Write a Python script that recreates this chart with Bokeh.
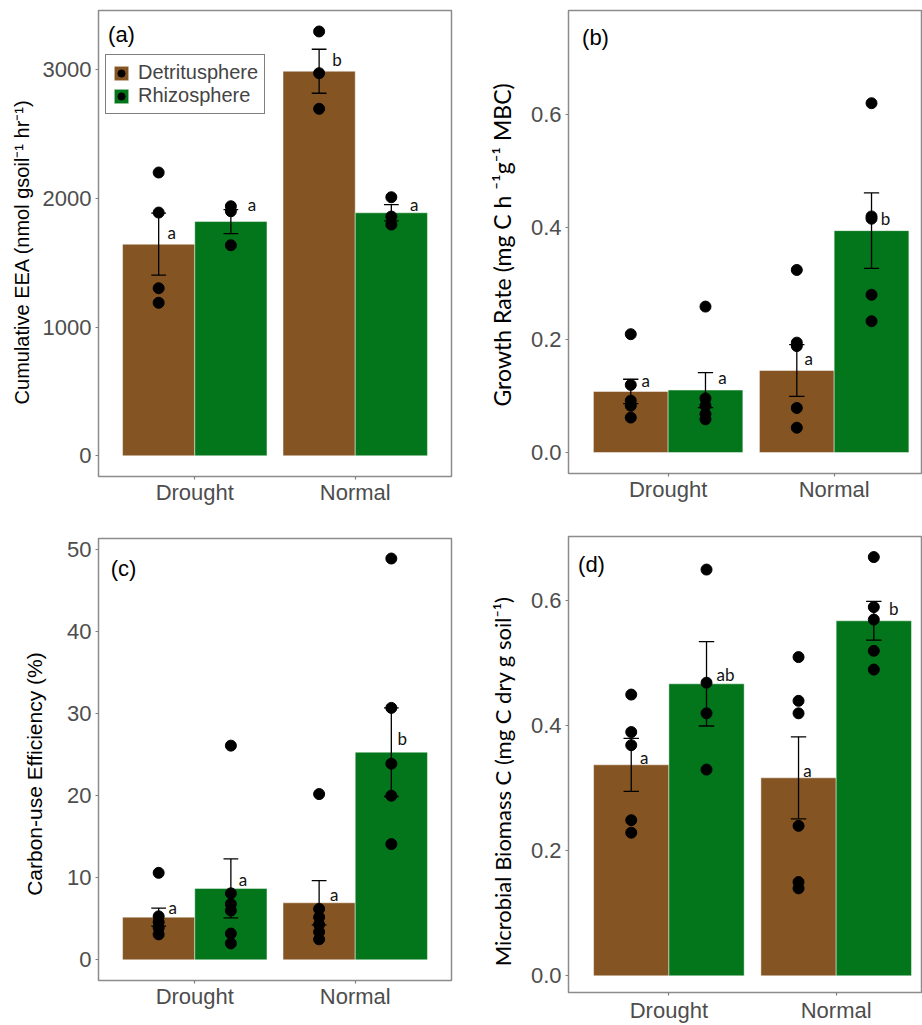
from bokeh.plotting import figure
from bokeh.models import (ColumnDataSource, Range1d, FixedTicker, Label, Legend,
                          LegendItem, PrintfTickFormatter)
from bokeh.layouts import column, row
from bokeh.embed import file_html
from bokeh.resources import INLINE
from bokeh.core.properties import value

# ---------------- data ----------------
conditions = ["Drought", "Normal"]
groups = ["Detritusphere", "Rhizosphere"]

# (a) Cumulative EEA
eea_ticks = [0, 1000, 2000, 3000]
eea_det_mean = [1644, 2988]
eea_det_se = [241, 171]
eea_rhi_mean = [1820, 1888]
eea_rhi_se = [93, 63]
eea_det_pts = [[2201, 1890, 1302, 1189], [3297, 2973, 2696]]
eea_rhi_pts = [[1939, 1900, 1636], [2009, 1859, 1797]]
eea_det_letters = ["a", "b"]
eea_rhi_letters = ["a", "a"]
eea_det_letter_y = [1735, 3079]
eea_rhi_letter_y = [1955, 1955]

# (b) Growth rate
gr_ticks = [0.0, 0.2, 0.4, 0.6]
gr_det_mean = [0.1083, 0.1456]
gr_det_se = [0.0217, 0.0460]
gr_rhi_mean = [0.1108, 0.3938]
gr_rhi_se = [0.0310, 0.0670]
gr_det_pts = [[0.210, 0.120, 0.092, 0.083, 0.062], [0.324, 0.195, 0.189, 0.079, 0.044]]
gr_rhi_pts = [[0.259, 0.096, 0.083, 0.068, 0.059], [0.620, 0.419, 0.415, 0.280, 0.233]]
gr_det_letters = ["a", "a"]
gr_rhi_letters = ["a", "b"]
gr_det_letter_y = [0.1274, 0.1660]
gr_rhi_letter_y = [0.1333, 0.4145]

# (c) Carbon-use efficiency
cue_ticks = [0, 10, 20, 30, 40, 50]
cue_det_mean = [5.2, 6.95]
cue_det_se = [1.1, 2.7]
cue_rhi_mean = [8.7, 25.3]
cue_rhi_se = [3.6, 5.4]
cue_det_pts = [[10.6, 5.3, 4.6, 3.9, 3.1], [20.2, 6.2, 5.2, 4.3, 3.4, 2.5]]
cue_rhi_pts = [[26.1, 8.1, 6.8, 6.0, 3.2, 2.0], [48.9, 30.7, 23.9, 20.0, 14.1]]
cue_det_letters = ["a", "a"]
cue_rhi_letters = ["a", "b"]
cue_det_letter_y = [6.34, 7.93]
cue_rhi_letter_y = [9.79, 27.02]

# (d) Microbial biomass C
mbc_ticks = [0.0, 0.2, 0.4, 0.6]
mbc_det_mean = [0.3376, 0.3168]
mbc_det_se = [0.0424, 0.0656]
mbc_rhi_mean = [0.4672, 0.5680]
mbc_rhi_se = [0.0675, 0.0310]
mbc_det_pts = [[0.450, 0.390, 0.369, 0.249, 0.229], [0.510, 0.440, 0.420, 0.240, 0.150, 0.140]]
mbc_rhi_pts = [[0.650, 0.469, 0.420, 0.330], [0.670, 0.590, 0.570, 0.520, 0.490]]
mbc_det_letters = ["a", "a"]
mbc_rhi_letters = ["ab", "b"]
mbc_det_letter_y = [0.349, 0.328]
mbc_rhi_letter_y = [0.4816, 0.588]

# ---------------- style ----------------
BROWN = "#845422"
GREEN = "#03751a"
DODGE = 0.225
BAR_W = 0.45
CAP = 0.046
TICK_GRAY = "#4d4d4d"
FRAME_GRAY = "#8c8c8c"
NB = "\u00a0"


def panel(tag, ylabel, ylabel_font, ylabel_size, yticks, fmt, yr, xend, size, borders,
          label_standoff, x_standoff, tag_pos, det, rhi, det_dx, rhi_dx, legend=False):
    w, h = size
    bl, br, bt, bb = borders
    p = figure(width=w, height=h, output_backend="svg", toolbar_location=None,
               x_range=Range1d(0.4, xend), y_range=Range1d(*yr),
               min_border_left=bl, min_border_right=br, min_border_top=bt,
               min_border_bottom=bb)
    p.title.visible = False
    p.xgrid.visible = False
    p.ygrid.visible = False
    p.outline_line_color = FRAME_GRAY
    p.outline_line_width = 1.5
    p.background_fill_color = "white"
    p.border_fill_color = "white"

    items = []
    for gi, (g, color, dxs) in enumerate(zip(groups, [BROWN, GREEN], [det_dx, rhi_dx])):
        means, ses, pts, letters, lety = (det, rhi)[gi]
        xs = [i + 1 + (-DODGE if gi == 0 else DODGE) for i in range(len(conditions))]
        bar = p.vbar(x=xs, top=means, width=BAR_W, bottom=0, fill_color=color,
                     line_color="white", line_alpha=0.45, line_width=1)
        lo = [m - s for m, s in zip(means, ses)]
        hi = [m + s for m, s in zip(means, ses)]
        p.segment(x0=xs, y0=lo, x1=xs, y1=hi, line_color="black", line_width=1.3)
        p.segment(x0=[x - CAP for x in xs], y0=lo, x1=[x + CAP for x in xs], y1=lo,
                  line_color="black", line_width=1.3)
        p.segment(x0=[x - CAP for x in xs], y0=hi, x1=[x + CAP for x in xs], y1=hi,
                  line_color="black", line_width=1.3)
        px, py = [], []
        for x, vals in zip(xs, pts):
            px += [x] * len(vals)
            py += vals
        sc = p.scatter(x=px, y=py, size=11, fill_color="black", line_color="black")
        src = ColumnDataSource(dict(x=xs, y=lety, t=letters, dx=dxs))
        p.text(x="x", y="y", text="t", x_offset="dx", source=src, text_align="center",
               text_baseline="middle", text_font_size="17px", text_font=value("Lato"),
               text_color="#111111")
        items.append(LegendItem(label=g, renderers=[bar, sc]))

    p.xaxis.ticker = FixedTicker(ticks=[1, 2])
    p.xaxis.major_label_overrides = {1: conditions[0], 2: conditions[1]}
    p.xaxis.axis_label = None
    p.yaxis.ticker = FixedTicker(ticks=yticks)
    p.yaxis.formatter = PrintfTickFormatter(format=fmt)
    for ax in (p.xaxis, p.yaxis):
        ax.axis_line_color = None
        ax.major_tick_line_color = "#7f7f7f"
        ax.major_tick_line_width = 1.2
        ax.major_tick_out = 3
        ax.major_tick_in = 0
        ax.minor_tick_line_color = None
        ax.major_label_text_font = "Liberation Sans"
        ax.major_label_text_color = TICK_GRAY
        ax.major_label_text_font_size = "22px"
    p.xaxis.major_label_standoff = x_standoff
    p.yaxis.major_label_standoff = 4
    p.yaxis.axis_label = ylabel
    p.yaxis.axis_label_text_font = ylabel_font
    p.yaxis.axis_label_text_font_style = "normal"
    p.yaxis.axis_label_text_font_size = ylabel_size
    p.yaxis.axis_label_text_color = "black"
    p.yaxis.axis_label_standoff = label_standoff

    fh = h - bt - bb
    p.add_layout(Label(x=tag_pos[0], y=fh - tag_pos[1], x_units="screen", y_units="screen",
                       text=tag, text_align="center", text_baseline="middle",
                       text_font="Liberation Sans", text_font_size="22px",
                       text_color="black"))
    if legend:
        lg = Legend(items=items, location=(7, fh - 44 - 60), orientation="vertical",
                    glyph_width=18, glyph_height=18, label_height=18,
                    label_text_font="Liberation Sans", label_text_font_size="20px",
                    label_standoff=8, padding=6, spacing=0, margin=0,
                    border_line_color="black", border_line_width=1.5,
                    background_fill_color="white", background_fill_alpha=1)
        p.add_layout(lg)
    return p


pa = panel("(a)", "Cumulative EEA (nmol gsoil\u207b\u00b9 hr\u207b\u00b9)" + NB * 3, "Liberation Sans", "20px",
           eea_ticks, "%d", (-161, 3460), 2.6, (460, 518), (98, 9, 10, 42), 7, 0, (23, 24),
           (eea_det_mean, eea_det_se, eea_det_pts, eea_det_letters, eea_det_letter_y),
           (eea_rhi_mean, eea_rhi_se, eea_rhi_pts, eea_rhi_letters, eea_rhi_letter_y),
           [13, 18], [21, 23], legend=True)
pb = panel("(b)", "Growth Rate (mg C  h \u207b\u00b9g\u207b\u00b9 MBC)", "Lato", "23px",
           gr_ticks, "%.1f", (-0.0373, 0.7846), 2.526, (462, 518), (106, 1, 10, 45), 12, 0, (27, 27),
           (gr_det_mean, gr_det_se, gr_det_pts, gr_det_letters, gr_det_letter_y),
           (gr_rhi_mean, gr_rhi_se, gr_rhi_pts, gr_rhi_letters, gr_rhi_letter_y),
           [15, 12], [17, 14])
pc = panel("(c)", "Carbon-use Efficiency (%)" + NB * 5, "Liberation Sans", "21px",
           cue_ticks, "%d", (-2.52, 51.34), 2.6, (460, 507), (98, 4, 20, 45), 18, 0, (25, 30),
           (cue_det_mean, cue_det_se, cue_det_pts, cue_det_letters, cue_det_letter_y),
           (cue_rhi_mean, cue_rhi_se, cue_rhi_pts, cue_rhi_letters, cue_rhi_letter_y),
           [14, 15], [12, 11])
pd_ = panel("(d)", "Microbial Biomass C (mg C dry g soil\u207b\u00b9)" + NB * 6, "Lato", "22px",
            mbc_ticks, "%.1f", (-0.0267, 0.7029), 2.51, (462, 507), (108, 1, 18, 33), 12, 2, (23, 28),
            (mbc_det_mean, mbc_det_se, mbc_det_pts, mbc_det_letters, mbc_det_letter_y),
            (mbc_rhi_mean, mbc_rhi_se, mbc_rhi_pts, mbc_rhi_letters, mbc_rhi_letter_y),
            [13, 9], [19, 20])

layout = row(column(pa, pc), column(pb, pd_))
open("out.html", "w").write(file_html(layout, INLINE))
